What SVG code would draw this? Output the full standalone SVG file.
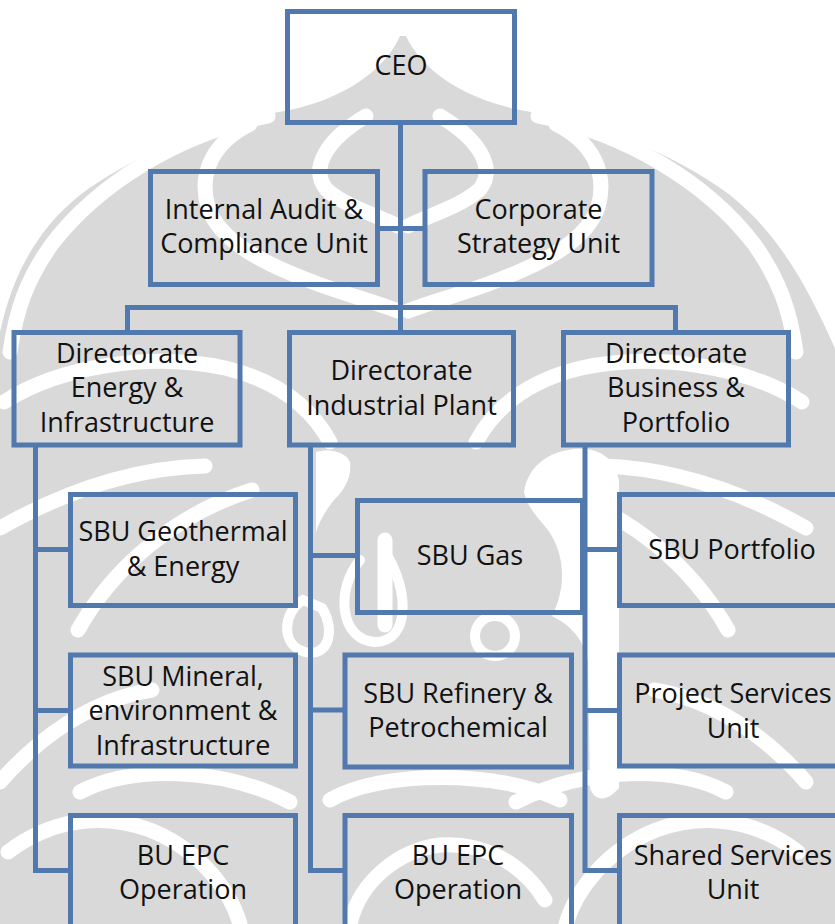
<svg xmlns="http://www.w3.org/2000/svg" width="835" height="924" viewBox="0 0 835 924">
  <style>
    .box { fill: none; stroke: #5279ad; stroke-width: 5; }
    .conn { fill: none; stroke: #5279ad; stroke-width: 5; stroke-linejoin: miter; }
    .lbl { font-family: "Open Sans", "Liberation Sans", sans-serif; font-size: 27px; fill: #111; text-anchor: middle; }
    .wm-base { fill: #d9d9d9; }
    .wm-cut { fill: none; stroke: #ffffff; stroke-width: 15; stroke-linecap: round; }
    .wm-open { fill: #ffffff; }
  </style>
  <defs>
    <!-- one half of the background emblem's white cut lines, mirrored for the other side -->
    <g id="wm-half" class="wm-cut">
      <path d="M268,116 C178,134 98,184 52,244 C27,279 16,310 10,352"/>
      <path d="M250,124 C214,142 198,172 208,207 C220,242 264,264 318,284 C348,295 378,303 398,311"/>
      <path d="M366,116 C326,140 310,168 326,189 C344,206 374,214 398,226"/>
      <path d="M4,402 C60,366 150,352 225,368 C275,380 310,405 330,442"/>
      <path d="M0,528 C60,494 130,468 205,466"/>
      <path d="M78,630 C114,566 176,514 252,490"/>
      <path d="M0,782 C40,736 92,700 152,690"/>
      <path d="M80,792 C130,766 220,766 290,802"/>
      <path d="M8,852 C50,820 100,812 150,830 C200,850 230,890 240,924"/>
    </g>
  </defs>

  <rect width="835" height="924" fill="#ffffff"/>

  <!-- background emblem -->
  <g id="emblem">
    <path class="wm-base" d="M400,36 C385,70 345,98 290,110 C220,122 140,150 80,195 C30,235 5,290 -5,360 L-5,930 L840,930 L840,360 C810,290 780,235 730,195 C670,150 590,122 520,110 C462,98 422,70 406,36 Z"/>
    <use href="#wm-half"/>
    <use href="#wm-half" transform="translate(806,0) scale(-1,1)"/>
    <!-- open areas around the right and middle trunks -->
    <path class="wm-open" d="M524,492 C528,466 548,452 574,449 C600,447 614,458 619,480 V788 C607,802 595,802 590,788 L588,662 C584,640 572,626 552,616 C566,588 566,556 548,530 C536,516 527,506 524,492 Z"/>
    <path class="wm-open" d="M316,452 C330,448 346,452 350,462 C352,478 344,490 334,500 C326,510 320,520 316,532 Z"/>
    <g class="wm-cut">
      <path d="M385,540 V625"/>
      <path d="M303,600 C283,612 280,645 305,652 C330,658 335,628 322,608 Z" stroke-width="10"/>
      <path d="M360,560 C335,590 340,640 375,642 C410,642 410,590 385,552" stroke-width="10"/>
      <circle cx="495" cy="636" r="20" stroke-width="10"/>
      <path d="M330,800 C380,770 500,770 560,800"/>
      <path d="M350,924 C360,880 400,850 440,845 C480,842 520,860 545,900"/>
    </g>
  </g>

  <!-- connectors -->
  <g id="connectors" class="conn">
    <path d="M400.5,122 V332.5"/>
    <path d="M377.5,228.5 H425"/>
    <path d="M127.5,332.5 V307.5 H675.5 V332.5"/>
    <path d="M35.5,445 V870.5 H70.5 M35.5,549.5 H70.5 M35.5,710.5 H70.5"/>
    <path d="M310.5,445 V870.5 H345 M310.5,555.5 H357.5 M310.5,710 H345"/>
    <path d="M585,445 V870.5 H619.5 M585,549.5 H619.5 M585,710.5 H619.5"/>
  </g>

  <!-- nodes -->
  <g id="ceo">
    <rect class="box" x="287.5" y="11.5" width="227" height="111"/>
    <text class="lbl" x="401" y="75">CEO</text>
  </g>
  <g id="internal-audit">
    <rect class="box" x="150.5" y="171.5" width="227" height="113"/>
    <text class="lbl" x="264" y="219">Internal Audit &amp;</text>
    <text class="lbl" x="264" y="253">Compliance Unit</text>
  </g>
  <g id="corporate-strategy">
    <rect class="box" x="425" y="171.5" width="227" height="113"/>
    <text class="lbl" x="538.5" y="219">Corporate</text>
    <text class="lbl" x="538.5" y="253">Strategy Unit</text>
  </g>
  <g id="dir-energy">
    <rect class="box" x="14" y="332.5" width="226" height="112.5"/>
    <text class="lbl" x="127" y="363">Directorate</text>
    <text class="lbl" x="127" y="397">Energy &amp;</text>
    <text class="lbl" x="127" y="432">Infrastructure</text>
  </g>
  <g id="dir-industrial">
    <rect class="box" x="289.5" y="332.5" width="224" height="112.5"/>
    <text class="lbl" x="401.5" y="380">Directorate</text>
    <text class="lbl" x="401.5" y="415">Industrial Plant</text>
  </g>
  <g id="dir-business">
    <rect class="box" x="563.5" y="332.5" width="225" height="112.5"/>
    <text class="lbl" x="676" y="363">Directorate</text>
    <text class="lbl" x="676" y="397">Business &amp;</text>
    <text class="lbl" x="676" y="432">Portfolio</text>
  </g>
  <g id="sbu-geothermal">
    <rect class="box" x="70.5" y="494.5" width="225" height="111"/>
    <text class="lbl" x="183" y="541">SBU Geothermal</text>
    <text class="lbl" x="183" y="576">&amp; Energy</text>
  </g>
  <g id="sbu-gas">
    <rect class="box" x="357.5" y="500.5" width="225" height="112"/>
    <text class="lbl" x="470" y="565">SBU Gas</text>
  </g>
  <g id="sbu-portfolio">
    <rect class="box" x="619.5" y="494.5" width="225" height="111"/>
    <text class="lbl" x="732" y="559">SBU Portfolio</text>
  </g>
  <g id="sbu-mineral">
    <rect class="box" x="70.5" y="655" width="225" height="111"/>
    <text class="lbl" x="183" y="686">SBU Mineral,</text>
    <text class="lbl" x="183" y="720">environment &amp;</text>
    <text class="lbl" x="183" y="755">Infrastructure</text>
  </g>
  <g id="sbu-refinery">
    <rect class="box" x="345" y="655" width="226.5" height="112"/>
    <text class="lbl" x="458" y="703">SBU Refinery &amp;</text>
    <text class="lbl" x="458" y="737">Petrochemical</text>
  </g>
  <g id="project-services">
    <rect class="box" x="619.5" y="655" width="225" height="111"/>
    <text class="lbl" x="733" y="703">Project Services</text>
    <text class="lbl" x="733" y="738">Unit</text>
  </g>
  <g id="bu-epc-energy">
    <rect class="box" x="70.5" y="815.5" width="225" height="130"/>
    <text class="lbl" x="183" y="865">BU EPC</text>
    <text class="lbl" x="183" y="899">Operation</text>
  </g>
  <g id="bu-epc-industrial">
    <rect class="box" x="345" y="815.5" width="226.5" height="130"/>
    <text class="lbl" x="458" y="865">BU EPC</text>
    <text class="lbl" x="458" y="899">Operation</text>
  </g>
  <g id="shared-services">
    <rect class="box" x="619.5" y="815.5" width="225" height="130"/>
    <text class="lbl" x="733" y="865">Shared Services</text>
    <text class="lbl" x="733" y="899">Unit</text>
  </g>
</svg>
